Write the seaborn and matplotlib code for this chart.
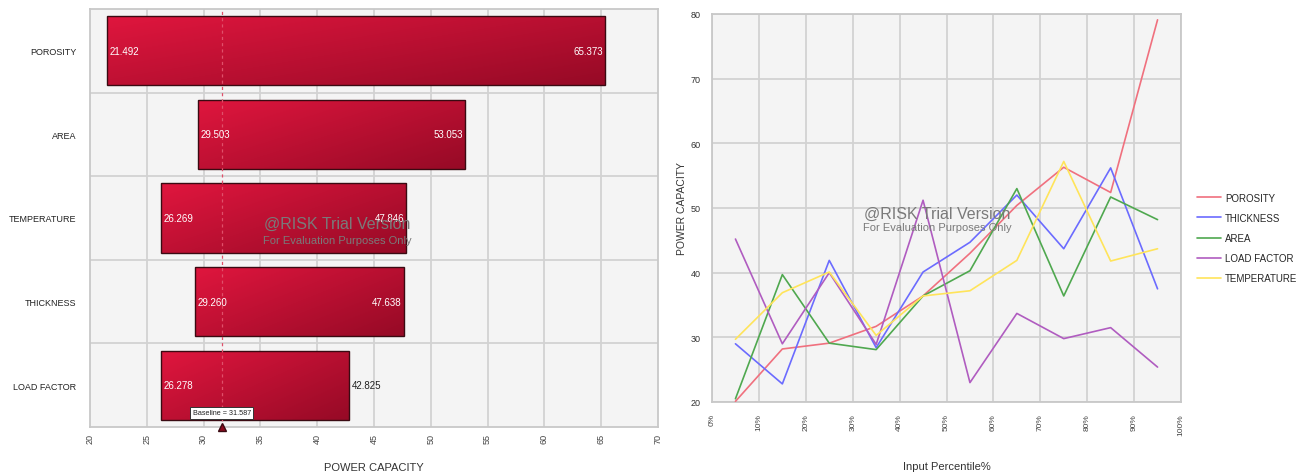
import numpy as np
import pandas as pd
import matplotlib
matplotlib.use("Agg")
import matplotlib.pyplot as plt
import seaborn as sns

# ---------------- data ----------------
tornado_inputs = ["POROSITY", "AREA", "TEMPERATURE", "THICKNESS", "LOAD FACTOR"]
tornado_low = [21.492, 29.503, 26.269, 29.260, 26.278]
tornado_high = [65.373, 53.053, 47.846, 47.638, 42.825]
baseline = 31.587

percentiles = [5, 15, 25, 35, 45, 55, 65, 75, 85, 95]
series_names = ["POROSITY", "THICKNESS", "AREA", "LOAD FACTOR", "TEMPERATURE"]
porosity = [20.1, 28.2, 29.1, 31.7, 36.4, 43.0, 50.4, 56.3, 52.4, 79.1]
thickness = [29.0, 22.8, 41.9, 28.4, 40.1, 44.7, 52.0, 43.7, 56.2, 37.5]
area = [20.5, 39.7, 29.1, 28.1, 36.4, 40.3, 53.0, 36.4, 51.7, 48.2]
load_factor = [45.2, 29.0, 40.0, 28.9, 51.2, 23.0, 33.7, 29.8, 31.5, 25.4]
temperature = [29.7, 36.9, 40.1, 30.3, 36.4, 37.2, 41.9, 57.2, 41.8, 43.7]
series_colors = ["#f0707e", "#6b6bff", "#4fa84f", "#b05cc0", "#ffe45a"]

x_ticks = list(range(0, 101, 10))
x_tick_labels = [f"{t}%" for t in x_ticks]

# ---------------- style ----------------
sns.set_theme(style="whitegrid")
plt.rcParams["font.family"] = ["Liberation Sans", "DejaVu Sans"]
BG = "#f4f4f4"
GRID = "#d2d2d2"

fig = plt.figure(figsize=(13.04, 4.77), dpi=100)
fig.patch.set_facecolor("white")

# ---------------- left: tornado ----------------
axL = fig.add_axes([90 / 1304, 1 - 428 / 477, (658 - 90) / 1304, (428 - 10) / 477])
tdf = pd.DataFrame({"input": tornado_inputs, "low": tornado_low, "high": tornado_high})
tdf["span"] = tdf["high"] - tdf["low"]
sns.barplot(data=tdf, x="span", y="input", orient="y", ax=axL, width=0.83,
            color="#c8102e", edgecolor="#3a0a12", linewidth=1.0, zorder=3)
bars = list(axL.patches)
for p, lo in zip(bars, tdf["low"]):
    p.set_x(lo)

axL.set_facecolor(BG)

# gradient fill clipped to each bar
c1 = np.array([224, 22, 62]) / 255
c2 = np.array([150, 10, 38]) / 255
nu, nv = 120, 40
u = np.linspace(0, 1, nu)[None, :]
v = np.linspace(0, 1, nv)[:, None]
g = (0.55 * u + 0.45 * v)
img = c1[None, None, :] * (1 - g[..., None]) + c2[None, None, :] * g[..., None]
for p in bars:
    x0, y0 = p.get_x(), p.get_y()
    w, h = p.get_width(), p.get_height()
    im = axL.imshow(img, extent=(x0, x0 + w, y0 + h, y0), origin="upper",
                    aspect="auto", zorder=3.5, interpolation="bilinear")
    im.set_clip_path(p)
    p.set_facecolor("none")
    p.set_zorder(4)
axL.set_xlim(20, 70)
axL.set_ylim(len(tornado_inputs) - 0.5, -0.5)

# grid
axL.grid(False)
axL.set_xticks(np.arange(20, 71, 5))
for xv in np.arange(25, 70, 5):
    axL.axvline(xv, color=GRID, lw=1.3, zorder=1)
for yb in np.arange(0.5, len(tornado_inputs) - 0.5, 1):
    axL.axhline(yb, color=GRID, lw=1.3, zorder=1)
for s in axL.spines.values():
    s.set_color("#c8c8c8")
    s.set_linewidth(1.3)

axL.axvline(baseline, color="#e0506a", lw=0.9, ls=(0, (2.5, 2.5)), zorder=5)
axL.plot([baseline], [len(tornado_inputs) - 0.5], marker="^", color="#8a0a1e",
         markersize=6, clip_on=False, zorder=7, markeredgecolor="#3a0a12")
axL.text(baseline, len(tornado_inputs) - 0.5 - 0.13, f"Baseline = {baseline}",
         ha="center", va="bottom", fontsize=5.2, color="#222222", zorder=8,
         bbox=dict(boxstyle="square,pad=0.35", fc="white", ec="#333333", lw=0.7))

for i, (lo, hi) in enumerate(zip(tornado_low, tornado_high)):
    axL.text(lo + 0.2, i, f"{lo:.3f}", ha="left", va="center", fontsize=7,
             color="white", zorder=6)
    if i == len(tornado_inputs) - 1:
        axL.text(hi + 0.2, i, f"{hi:.3f}", ha="left", va="center", fontsize=7,
                 color="#222222", zorder=6)
    else:
        axL.text(hi - 0.2, i, f"{hi:.3f}", ha="right", va="center", fontsize=7,
                 color="white", zorder=6)

axL.set_ylabel("")
axL.set_xlabel("POWER CAPACITY", fontsize=8, color="#333333", labelpad=14)
axL.tick_params(axis="y", labelsize=6.5, colors="#222222", length=0, pad=10)
axL.tick_params(axis="x", labelsize=6.5, colors="#444444", length=0, pad=4,
                labelrotation=90)

axL.text((337 - 90) / 568, 0.487, "@RISK Trial Version", transform=axL.transAxes,
         ha="center", va="center", fontsize=11.5, color="#7a7a7a", zorder=9)
axL.text((337 - 90) / 568, 0.447, "For Evaluation Purposes Only", transform=axL.transAxes,
         ha="center", va="center", fontsize=8, color="#7a7a7a", zorder=9)

# ---------------- right: line chart ----------------
axR = fig.add_axes([712 / 1304, 1 - 403 / 477, (1181 - 712) / 1304, (403 - 15) / 477])
rows = []
for name, vals in zip(series_names, [porosity, thickness, area, load_factor, temperature]):
    for p_, v_ in zip(percentiles, vals):
        rows.append({"percentile": p_, "value": v_, "series": name})
ldf = pd.DataFrame(rows)
sns.lineplot(data=ldf, x="percentile", y="value", hue="series",
             hue_order=series_names, palette=dict(zip(series_names, series_colors)),
             lw=1.2, ax=axR, zorder=3)
axR.set_xlim(0, 100)
axR.set_ylim(20, 80)
axR.set_facecolor(BG)
axR.set_xticks(x_ticks)
axR.set_xticklabels(x_tick_labels)
axR.set_yticks(np.arange(20, 81, 10))
axR.grid(True, color=GRID, lw=1.3)
axR.set_axisbelow(True)
for s in axR.spines.values():
    s.set_color("#c8c8c8")
    s.set_linewidth(1.3)
axR.tick_params(axis="x", labelsize=6, colors="#444444", length=0, pad=8,
                labelrotation=90)
axR.tick_params(axis="y", labelsize=6.5, colors="#333333", length=0, pad=8)
axR.set_xlabel("Input Percentile%", fontsize=8, color="#333333", labelpad=19)
axR.set_ylabel("POWER CAPACITY", fontsize=7.5, color="#333333", labelpad=3)

axR.text((937 - 712) / 469, 0.487, "@RISK Trial Version", transform=axR.transAxes,
         ha="center", va="center", fontsize=11.5, color="#7a7a7a", zorder=9)
axR.text((937 - 712) / 469, 0.452, "For Evaluation Purposes Only", transform=axR.transAxes,
         ha="center", va="center", fontsize=8, color="#7a7a7a", zorder=9)

leg = axR.legend(loc="center left", bbox_to_anchor=(1.015, (403 - 239) / 388),
                 frameon=False, fontsize=7, handlelength=2.5, labelspacing=1.05,
                 handletextpad=0.4)
for line in leg.get_lines():
    line.set_linewidth(1.2)

fig.savefig("out.png", dpi=100, facecolor="white")
